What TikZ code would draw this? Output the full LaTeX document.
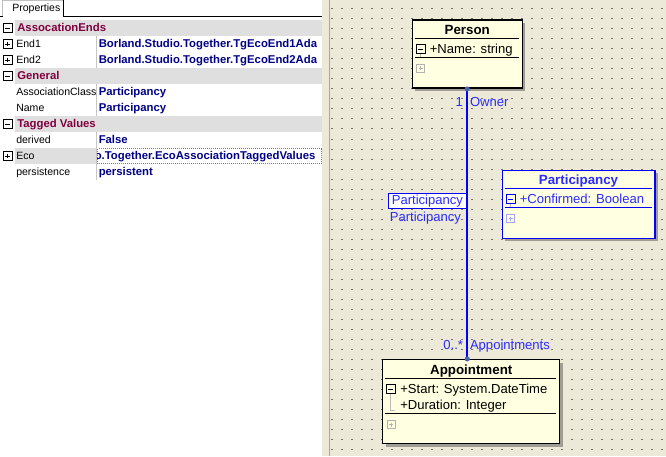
\documentclass[tikz,border=0pt]{standalone}
\usepackage{fontspec}
\setmainfont{Liberation Sans}
\usetikzlibrary{positioning, calc, shadows}
\definecolor{canvasbg}{HTML}{ECE9D8}
\definecolor{edgegrey}{HTML}{ACA899}
\definecolor{dotgrey}{HTML}{77736A}
\definecolor{umlfill}{HTML}{FFFFE1}
\definecolor{shadowgrey}{HTML}{A09E94}
\definecolor{bandgrey}{HTML}{DFDFDF}
\definecolor{catred}{HTML}{800040}
\definecolor{valblue}{HTML}{000088}
\definecolor{umlblue}{HTML}{0000FF}
\definecolor{linkblue}{HTML}{2B2BFF}
\definecolor{enddot}{HTML}{4A64B4}
\tikzstyle{propname} = [anchor=west, inner sep=0pt, font=\fontsize{7.9}{9}\selectfont, text height=6pt, text depth=1pt]
\tikzstyle{propvalue} = [anchor=west, inner sep=0pt, font=\fontsize{8.5}{10}\selectfont\bfseries, text=valblue, text height=6.3pt, text depth=1pt]
\tikzstyle{category} = [propvalue, text=catred]
\tikzstyle{minusbox} = [rectangle, draw=black, line width=0.6pt, minimum size=6.6pt, inner sep=0pt, path picture={\draw[line width=0.6pt] ([xshift=1.5pt]path picture bounding box.west) -- ([xshift=-1.5pt]path picture bounding box.east);}]
\tikzstyle{plusbox} = [rectangle, draw=black, line width=0.6pt, minimum size=6.6pt, inner sep=0pt, path picture={\draw[line width=0.6pt] ([xshift=1.5pt]path picture bounding box.west) -- ([xshift=-1.5pt]path picture bounding box.east); \draw[line width=0.6pt] ([yshift=-1.5pt]path picture bounding box.north) -- ([yshift=1.5pt]path picture bounding box.south);}]
\tikzstyle{emptybox} = [plusbox, draw=gray!60, minimum size=6pt, line width=0.5pt]
\tikzstyle{umlclass} = [rectangle, anchor=north west, inner sep=0pt, draw=black, line width=1.1pt, fill=umlfill, general shadow={fill=shadowgrey, shadow xshift=2.25pt, shadow yshift=-2.25pt}]
\tikzstyle{umltitle} = [inner sep=0pt, font=\fontsize{10}{12}\selectfont\bfseries, text height=8pt, text depth=2pt]
\tikzstyle{umltext} = [anchor=west, inner sep=0pt, font=\fontsize{9.8}{12}\selectfont, text height=8pt, text depth=2pt]
\tikzstyle{linklabel} = [umltext, text=linkblue]
\tikzstyle{sepline} = [line width=1pt]
\tikzstyle{assoc} = [draw=umlblue, line width=1.2pt]

\begin{document}
\begin{tikzpicture}[x=0.75pt, y=-0.75pt]
    \useasboundingbox (0,0) rectangle (666,456);

    % panel and canvas
    \fill[white] (0,0) rectangle (322,456);
    \fill[canvasbg] (322,0) rectangle (666,456);
    \draw[edgegrey, line width=0.75pt] (329.5,0) -- (329.5,456);
    \foreach \gx in {332,342,...,662}
        \foreach \gy in {9,19,...,449}
            \fill[dotgrey] (\gx-1,\gy-0.5) rectangle ++(2,1);

    % property sheet
    \draw[gray!50, line width=0.75pt] (2.5,16) -- (2.5,1) -- (62.5,1);
    \draw[black, line width=0.75pt] (0,16.5) -- (2.5,16.5);
    \draw[black, line width=0.75pt] (63,0.5) -- (63,16.5) -- (322,16.5);
    \node (proptab) [propname] at (12,8.5) {Properties};

    \fill[bandgrey] (15,20) rectangle (322,36);
    \fill[bandgrey] (15,68) rectangle (322,84);
    \fill[bandgrey] (15,116) rectangle (322,132);
    \fill[bandgrey] (15,148) rectangle (96,164);
    \draw[gray!45, line width=0.75pt] (96.5,36) -- (96.5,68);
    \draw[gray!45, line width=0.75pt] (96.5,84) -- (96.5,116);
    \draw[gray!45, line width=0.75pt] (96.5,132) -- (96.5,180);
    \draw[gray, line width=0.75pt, dash pattern=on 0.75pt off 0.75pt] (97.5,148.5) rectangle (321.5,163.5);

    \node (endsbox) [minusbox] at (7.5,28) {};
    \node (end1box) [plusbox] at (7.5,44) {};
    \node (end2box) [plusbox] at (7.5,60) {};
    \node (genbox) [minusbox] at (7.5,76) {};
    \node (tagbox) [minusbox] at (7.5,124) {};
    \node (ecobox) [plusbox] at (7.5,156) {};

    \node (ends) [category] at (17,28) {AssocationEnds};
    \node (general) [category] at (17,76) {General};
    \node (tagged) [category] at (17,124) {Tagged Values};

    \node (end1) [propname] at (16,44) {End1};
    \node (end2) [propname] at (16,60) {End2};
    \node (aclass) [propname] at (16,92) {AssociationClass};
    \node (aname) [propname] at (16,108) {Name};
    \node (derived) [propname] at (16,140) {derived};
    \node (eco) [propname] at (16,156) {Eco};
    \node (persist) [propname] at (16,172) {persistence};

    \begin{scope}
        \clip (97.5,20) rectangle (322,180);
        \node (end1val) [propvalue] at (98.5,44) {Borland.Studio.Together.TgEcoEnd1Ada};
        \node (end2val) [propvalue] at (98.5,60) {Borland.Studio.Together.TgEcoEnd2Ada};
        \node (aclassval) [propvalue] at (98.5,92) {Participancy};
        \node (anameval) [propvalue] at (98.5,108) {Participancy};
        \node (derivedval) [propvalue] at (98.5,140) {False};
        \node (ecoval) [propvalue] at (94.5,156) {o.Together.EcoAssociationTaggedValues};
        \node (persistval) [propvalue] at (98.5,172) {persistent};
    \end{scope}

    % class Person
    \node (person) [umlclass, minimum width=82.5pt, minimum height=51pt] at (411.5,19.5) {};
    \node (persontitle) [umltitle] at ($(person.north)+(0,11)$) {Person};
    \draw[sepline] ($(person.north west)+(3,19)$) -- ($(person.north east)+(-4,19)$);
    \draw[gray!60, line width=0.5pt] ($(person.north west)+(9,34)$) -- ($(person.north west)+(9,38)$);
    \node (personminus) [minusbox] at ($(person.north west)+(9,29.5)$) {};
    \node (personattr) [umltext] at ($(person.north west)+(18,30)$) {+Name: string};
    \draw[sepline] ($(person.north west)+(3,38)$) -- ($(person.north east)+(-4,38)$);
    \node (personplus) [emptybox] at ($(person.north west)+(9,49)$) {};

    % association class Participancy
    \node (partc) [umlclass, draw=umlblue, minimum width=114.4pt, minimum height=51pt] at (501.5,169.5) {};
    \node (partctitle) [umltitle, text=linkblue] at ($(partc.north)+(0,11)$) {Participancy};
    \draw[sepline, umlblue] ($(partc.north west)+(3,19)$) -- ($(partc.north east)+(-4,19)$);
    \draw[gray!60, line width=0.5pt] ($(partc.north west)+(9,34)$) -- ($(partc.north west)+(9,38)$);
    \node (partcminus) [minusbox, draw=umlblue] at ($(partc.north west)+(9,29.5)$) {};
    \node (partcattr) [linklabel] at ($(partc.north west)+(18,30)$) {+Confirmed: Boolean};
    \draw[sepline, umlblue] ($(partc.north west)+(3,38)$) -- ($(partc.north east)+(-4,38)$);
    \node (partcplus) [emptybox, draw=umlblue!35] at ($(partc.north west)+(9,49)$) {};

    % class Appointment
    \node (appt) [umlclass, minimum width=132.75pt, minimum height=63pt] at (382,359) {};
    \node (appttitle) [umltitle] at ($(appt.north)+(0,11)$) {Appointment};
    \draw[sepline] ($(appt.north west)+(2.5,19.5)$) -- ($(appt.north east)+(-4,19.5)$);
    \draw[gray!55, line width=0.6pt] ($(appt.north west)+(8.5,34)$) -- ($(appt.north west)+(8.5,51)$) -- ($(appt.north west)+(13,51)$);
    \node (apptminus) [minusbox] at ($(appt.north west)+(8.5,30)$) {};
    \node (apptstart) [umltext] at ($(appt.north west)+(18,30)$) {+Start: System.DateTime};
    \node (apptdur) [umltext] at ($(appt.north west)+(18,46)$) {+Duration: Integer};
    \draw[sepline] ($(appt.north west)+(2.5,54.5)$) -- ($(appt.north east)+(-4,54.5)$);
    \node (apptplus) [emptybox] at ($(appt.north west)+(9,65.5)$) {};

    % association
    \coordinate (ownerend) at (person.south);
    \coordinate (apptend) at (person.south |- appt.north);
    \node (assocname) [draw=umlblue, line width=0.75pt, fill=white, text=linkblue, font=\fontsize{9.8}{12}\selectfont, inner sep=0pt, minimum width=59pt, minimum height=11.6pt, anchor=north east] at ($(ownerend)+(0,104)$) {Participancy};
    \node (assocclass) [linklabel] at ($(assocname.south west)+(2,8.5)$) {Participancy};
    \draw[assoc] (ownerend) -- (apptend);
    \fill[enddot] (ownerend) circle (1.9pt);
    \fill[enddot] (apptend) circle (1.9pt);
    \node (ownermult) [linklabel, anchor=east] at ($(ownerend)+(-4,14)$) {1};
    \node (ownerrole) [linklabel] at ($(ownerend)+(2.5,14)$) {Owner};
    \node (apptmult) [linklabel, anchor=east] at ($(apptend)+(-4,-14)$) {0..*};
    \node (apptrole) [linklabel] at ($(apptend)+(2.5,-14)$) {Appointments};
\end{tikzpicture}
\end{document}
